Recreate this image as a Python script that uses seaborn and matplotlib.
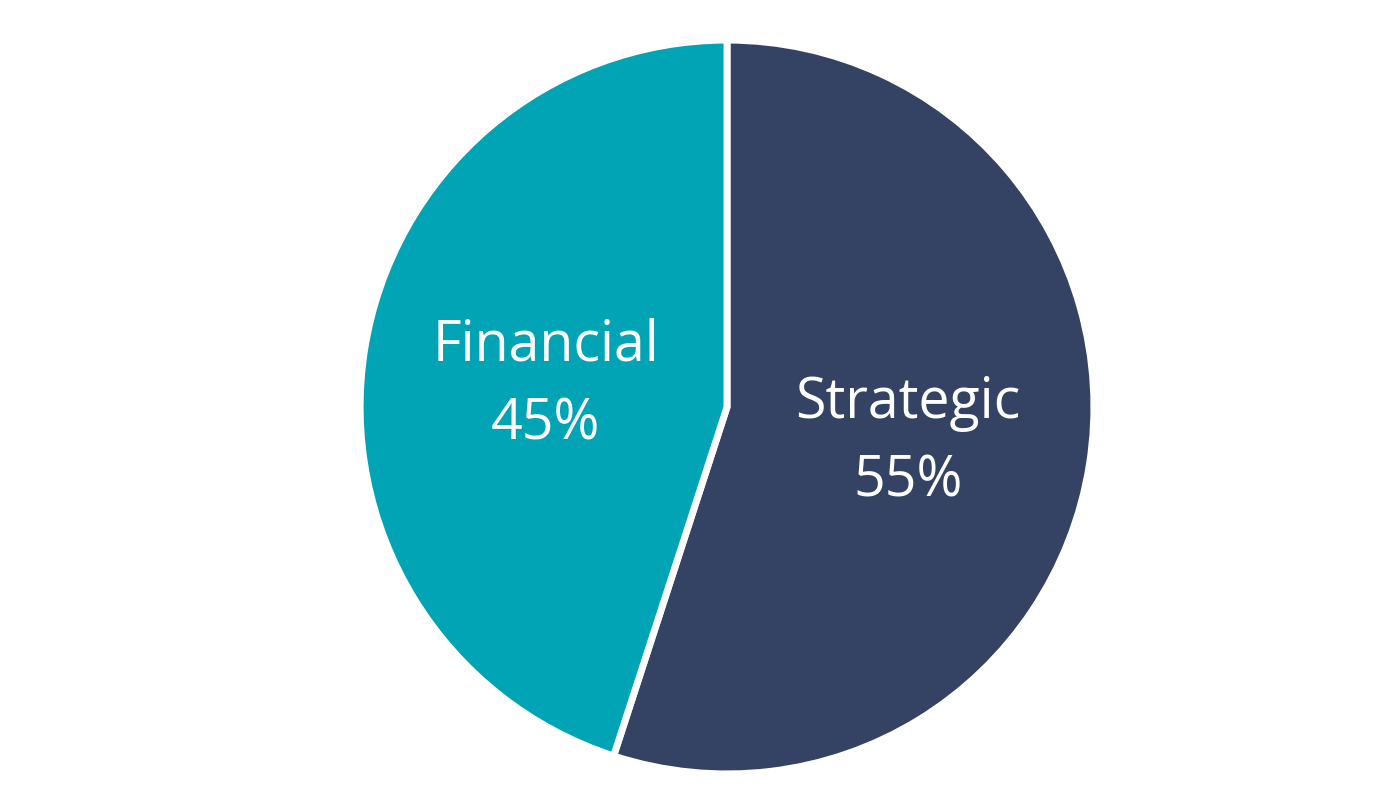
import matplotlib.pyplot as plt
import seaborn as sns

categories = ["Strategic", "Financial"]
shares = [55, 45]
slice_colors = ["#344263", "#00A4B5"]

sns.set_theme(style="white")
plt.rcParams['font.family'] = ['Open Sans', 'DejaVu Sans']

fig = plt.figure(figsize=(14, 8.05), dpi=100)
ax = fig.add_axes([0.2593, 0.0422, 0.52, 0.9044])

labels = [f"{c}\n{v}%" for c, v in zip(categories, shares)]
wedges, texts = ax.pie(
    shares,
    labels=labels,
    colors=slice_colors,
    startangle=90,
    counterclock=False,
    labeldistance=0.5,
    radius=1.008,
    wedgeprops=dict(edgecolor="white", linewidth=5),
    textprops=dict(color="white", fontsize=40, ha="center", va="center", linespacing=1.5),
)
# nudge labels slightly down to sit like the original
for t in texts:
    x, y = t.get_position()
    t.set_position((x, y - 0.02))

ax.set_xlim(-1.0, 1.0)
ax.set_ylim(-1.0, 1.0)
ax.set_aspect("auto")
ax.axis("off")

fig.savefig("out.png", dpi=100, facecolor="white")
